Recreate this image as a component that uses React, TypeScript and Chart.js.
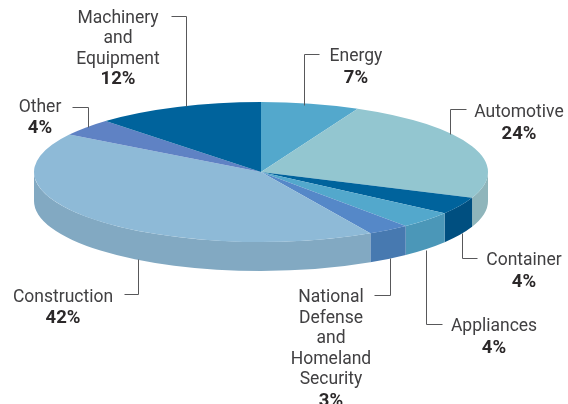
import React, { useEffect, useRef } from "react";
import { Chart, registerables } from "chart.js";

Chart.register(...registerables);

const categories = ["Energy", "Automotive", "Container", "Appliances", "National Defense and Homeland Security", "Construction", "Other", "Machinery and Equipment"];
const shares = [7, 24, 4, 4, 3, 42, 4, 12];
const topColors = ["#53a8cc", "#93c6d0", "#00639c", "#53a8cc", "#5588c8", "#8ebad7", "#5f82c4", "#00639c"];
const wallColors = ["#4b97b8", "#8fb5bb", "#004f80", "#4b97b8", "#4779b0", "#82a9c2", "#4f74ae", "#004f80"];
const labelLines = [["Energy"], ["Automotive"], ["Container"], ["Appliances"], ["National", "Defense", "and", "Homeland", "Security"], ["Construction"], ["Other"], ["Machinery", "and", "Equipment"]];

// Layout of each callout: text centre, first baseline, line step
const labelAnchors = [
  [356, 61, 21], [519, 117, 21], [524, 265, 21], [494, 331, 21],
  [331, 302, 20.6], [63, 302, 20.5], [40, 112, 20.5], [118, 23, 20.3],
];
// Leader polylines
const leaders = [
  [[319, 54], [304, 54], [304, 105]],
  [[466, 109], [450, 109], [450, 134]],
  [[462, 233], [462, 258], [477, 258]],
  [[426, 250], [426, 324], [442, 324]],
  [[390, 258], [390, 295], [374, 295]],
  [[138, 259], [138, 294], [124, 294]],
  [[72, 107], [88, 107], [88, 127]],
  [[171, 16], [186, 16], [186, 106]],
];

const RX = 227;
const RY = 70;
const DEPTH = 29;

const pie3d = {
  id: "pie3d",
  beforeDatasetsDraw(chart: any) {
    const { ctx } = chart;
    const arcs = chart.getDatasetMeta(0).data;
    ctx.save();
    arcs.forEach((arc: any, i: number) => {
      const a = Math.max(arc.startAngle, 0);
      const b = Math.min(arc.endAngle, Math.PI);
      if (a >= b) return;
      ctx.beginPath();
      ctx.ellipse(arc.x, arc.y, RX, RY, 0, a, b);
      ctx.ellipse(arc.x, arc.y + DEPTH, RX, RY, 0, b, a, true);
      ctx.closePath();
      ctx.fillStyle = wallColors[i];
      ctx.fill();
    });
    ctx.restore();
    const first = arcs[0];
    ctx.save();
    ctx.translate(first.x, first.y);
    ctx.scale(RX / first.outerRadius, RY / first.outerRadius);
    ctx.translate(-first.x, -first.y);
  },
  afterDatasetsDraw(chart: any) {
    chart.ctx.restore();
  },
  afterDraw(chart: any) {
    const { ctx } = chart;
    ctx.save();
    ctx.strokeStyle = "#58585a";
    ctx.lineWidth = 1;
    leaders.forEach((pts) => {
      ctx.beginPath();
      pts.forEach(([x, y], k) => {
        if (k === 0) ctx.moveTo(x + 0.5, y + 0.5);
        else ctx.lineTo(x + 0.5, y + 0.5);
      });
      ctx.stroke();
    });
    ctx.textAlign = "center";
    ctx.textBaseline = "alphabetic";
    labelLines.forEach((lines, i) => {
      const [cx, y0, step] = labelAnchors[i];
      ctx.font = "17.5px Roboto";
      ctx.fillStyle = "#414042";
      lines.forEach((t, k) => ctx.fillText(t, cx, y0 + k * step));
      ctx.font = "bold 18.5px Roboto";
      ctx.fillStyle = "#2b2829";
      ctx.fillText(`${shares[i]}%`, cx, y0 + lines.length * step + 0.5);
    });
    ctx.restore();
  },
};

export default function App() {
  const ref = useRef<HTMLCanvasElement>(null);
  useEffect(() => {
    const chart = new Chart(ref.current as HTMLCanvasElement, {
      type: "pie",
      data: {
        labels: categories,
        datasets: [{ data: shares, backgroundColor: topColors, borderWidth: 0, clip: false } as any],
      },
      options: {
        animation: false,
        responsive: false,
        layout: { padding: { left: 0, top: 0, right: 46, bottom: 60 } },
        plugins: { legend: { display: false }, tooltip: { enabled: false } },
      },
      plugins: [pie3d],
    } as any);
    return () => chart.destroy();
  }, []);
  return (
    <div style={{ position: "absolute", left: 0, top: 0, width: 568, height: 404, background: "#fff" }}>
      <canvas ref={ref} width={568} height={404} style={{ display: "block" }} />
    </div>
  );
}
